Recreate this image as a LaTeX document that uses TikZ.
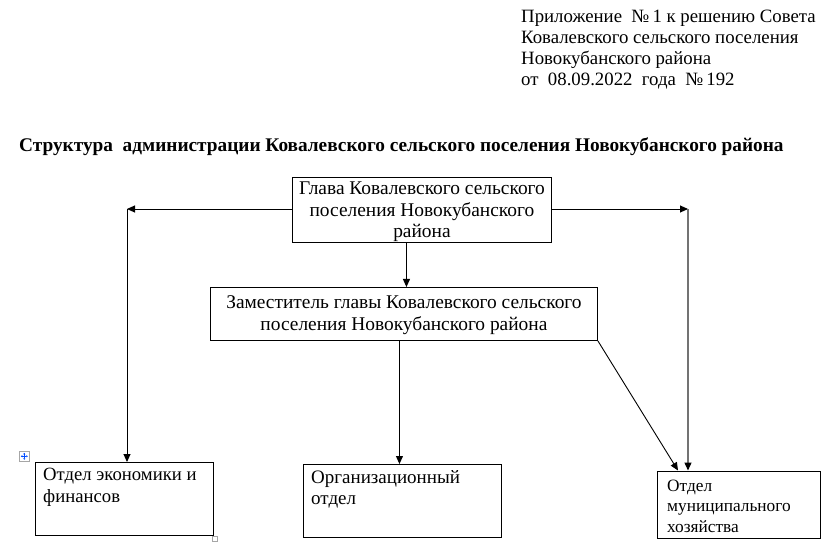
\documentclass[tikz,border=0pt]{standalone}
\usepackage{fontspec}
\setmainfont{Liberation Serif}
\usetikzlibrary{arrows.meta}
\begin{document}
\begin{tikzpicture}[x=1pt,y=-1pt,
  box/.style={draw=black, line width=0.9pt, inner sep=0pt},
  arr/.style={line width=0.9pt, -{Triangle[length=8pt,width=7pt,color=black]}},
  txt/.style={inner sep=0pt, anchor=north west, align=left},
  ctxt/.style={inner sep=0pt, align=center},
  iconc/.style={draw=gray!70, line width=0.6pt}]
\useasboundingbox[fill=white] (0,0) rectangle (823,556);
% header
\node[txt, font=\fontsize{18.8}{21}\selectfont] (hdr) at (521,9.5)
  {Приложение \ №\,1 к решению Совета\\Ковалевского сельского поселения\\Новокубанского района\\от \ 08.09.2022 \ года \ №\,192};
% title
\node[inner sep=0pt, anchor=base west, font=\bfseries\fontsize{19.3}{22}\selectfont] (title) at (19,152)
  {Структура \ администрации Ковалевского сельского поселения Новокубанского района};
% boxes
\node[box, minimum width=259, minimum height=65, anchor=north west] (glava) at (292,177) {};
\node[ctxt, font=\fontsize{19.4}{21.5}\selectfont] (glavat) at ([yshift=-2pt]glava.center)
  {Глава Ковалевского сельского\\поселения Новокубанского\\района};
\node[box, minimum width=387, minimum height=53, anchor=north west] (zam) at (210,287) {};
\node[ctxt, font=\fontsize{19.4}{22}\selectfont] (zamt) at ([yshift=-1.5pt]zam.center)
  {Заместитель главы Ковалевского сельского\\поселения Новокубанского района};
\node[box, minimum width=178, minimum height=73, anchor=north west] (econ) at (35,462) {};
\node[box, minimum width=198, minimum height=73, anchor=north west] (org) at (302.5,464) {};
\node[box, minimum width=163, minimum height=67, anchor=north west] (mun) at (657,470.5) {};
\node[txt, font=\fontsize{18.7}{21.7}\selectfont] (econt) at (43,468) {Отдел экономики и\\финансов};
\node[txt, font=\fontsize{19}{21}\selectfont] (orgt) at (311,470) {Организационный\\отдел};
\node[txt, font=\fontsize{17.3}{20.5}\selectfont] (munt) at (667,479.5) {Отдел\\муниципального\\хозяйства};
% connectors
\coordinate (lc) at (127,209);
\coordinate (rc) at (688,209);
\draw[arr] (glava.west |- lc) -- (lc);
\draw[arr] (lc) -- (lc |- econ.north);
\draw[arr] (glava.east |- rc) -- (rc);
\draw[arr, draw=black!55, line width=1.3pt] (rc) -- (rc |- mun.north);
\path (glava.south) ++(-15.5,0) coordinate (g1);
\draw[arr] (g1) -- (g1 |- zam.north);
\path (zam.south) ++(-4.5,0) coordinate (z1);
\draw[arr] (z1) -- (z1 |- org.north);
\path (mun.north west) ++(21,0) coordinate (m1);
\draw[arr] (zam.south east) -- (m1);
% small editor marks
\node[iconc, minimum size=10pt, inner sep=0pt, anchor=north west] (mv) at (19,451) {};
\draw[blue!70!cyan, line width=0.6pt, -{Triangle[length=1.5pt,width=2pt]}] (mv.center) -- ++(0,-3.5);
\draw[blue!70!cyan, line width=0.6pt, -{Triangle[length=1.5pt,width=2pt]}] (mv.center) -- ++(0,3.5);
\draw[blue!70!cyan, line width=0.6pt, -{Triangle[length=1.5pt,width=2pt]}] (mv.center) -- ++(3.5,0);
\draw[blue!70!cyan, line width=0.6pt, -{Triangle[length=1.5pt,width=2pt]}] (mv.center) -- ++(-3.5,0);
\node[iconc, minimum size=5pt, inner sep=0pt, anchor=north west] (rs) at (211.5,535.5) {};
\end{tikzpicture}
\end{document}
